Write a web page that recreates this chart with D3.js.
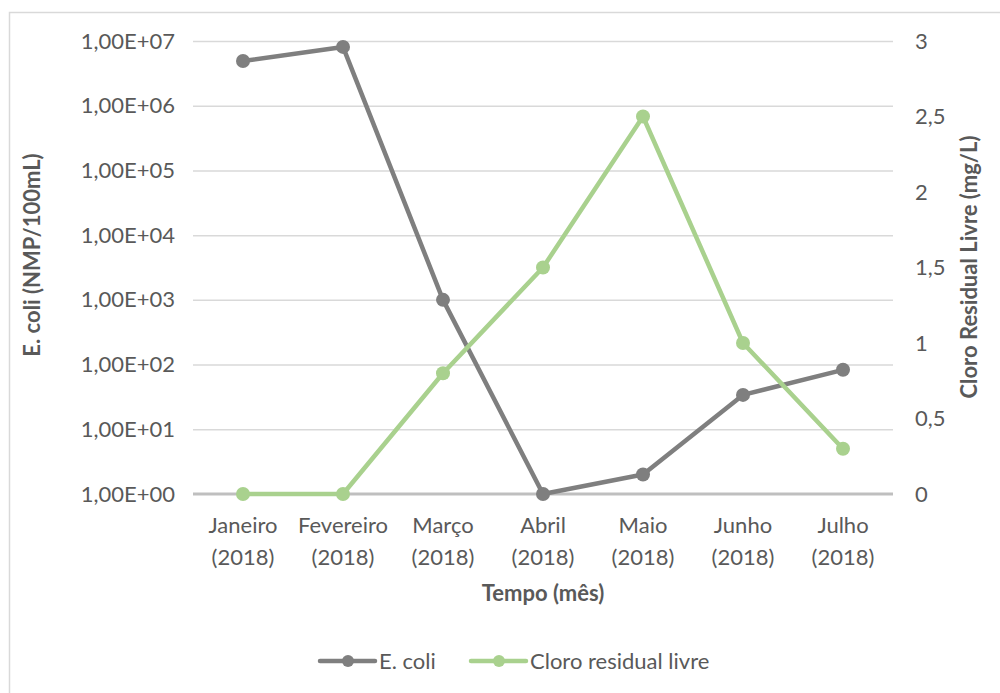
<!DOCTYPE html>
<html><head><meta charset="utf-8">
<script src="https://cdn.jsdelivr.net/npm/d3@7"></script>
<style>
body{margin:0;background:#fff;}
svg{display:block;font-family:Lato,"Open Sans",sans-serif;}
</style></head>
<body><svg id="chart" width="1000" height="693"></svg>
<script>
const months = ["Janeiro","Fevereiro","Março","Abril","Maio","Junho","Julho"];
const years = ["(2018)","(2018)","(2018)","(2018)","(2018)","(2018)","(2018)"];
const ecoli = [4.9e6, 8.1e6, 1000, 1, 2, 34, 83];
const cloro = [0, 0, 0.8, 1.5, 2.5, 1.0, 0.3];
const leftTicks = [1,10,100,1e3,1e4,1e5,1e6,1e7];
const rightTicks = [0,0.5,1,1.5,2,2.5,3];
const seriesNames = ["E. coli","Cloro residual livre"];
const colors = ["#7f7f7f","#a9d18e"];

const svg = d3.select("#chart");
const textColor = "#595959";
const FS = "22px";
const L = 193, R = 893, T = 41, B = 494;

svg.append("rect").attr("x",9.5).attr("y",12.5).attr("width",1200).attr("height",1000)
  .attr("fill","none").attr("stroke","#d9d9d9").attr("stroke-width",1.5);

const x = d3.scaleBand().domain(months).range([L,R]);
const yL = d3.scaleLog().domain([1,1e7]).range([B,T]);
const yR = d3.scaleLinear().domain([0,3]).range([B,T]);

// gridlines
const grid = svg.append("g").attr("transform",`translate(${L},0)`)
  .call(d3.axisLeft(yL).tickValues(leftTicks.slice(1)).tickSize(-(R-L)).tickFormat(""));
grid.select(".domain").remove();
grid.selectAll("line").attr("stroke","#d9d9d9").attr("stroke-width",1.5);

// baseline
svg.append("line").attr("x1",L).attr("x2",R).attr("y1",yL(1)).attr("y2",yL(1))
  .attr("stroke","#bfbfbf").attr("stroke-width",3);

// left axis
const fmt = d => "1,00E+" + String(Math.round(Math.log10(d))).padStart(2,"0");
const ax = svg.append("g").attr("transform",`translate(175,0)`)
  .call(d3.axisLeft(yL).tickValues(leftTicks).tickSize(0).tickPadding(0).tickFormat(fmt));
ax.select(".domain").remove();
ax.selectAll("text").attr("fill",textColor).style("font-size",FS).style("font-family","Lato");

// right axis
const ar = svg.append("g").attr("transform",`translate(915,0)`)
  .call(d3.axisRight(yR).tickValues(rightTicks).tickSize(0).tickPadding(0)
    .tickFormat(d => String(d).replace(".",",")));
ar.select(".domain").remove();
ar.selectAll("text").attr("fill",textColor).style("font-size",FS).style("font-family","Lato");

// x axis
const axb = svg.append("g").attr("transform",`translate(0,${B})`)
  .call(d3.axisBottom(x).tickSize(0).tickPadding(0).tickFormat(""));
axb.select(".domain").remove();
axb.selectAll(".tick").each(function(d,i){
  const t = d3.select(this).append("text").attr("fill",textColor)
    .attr("text-anchor","middle").style("font-size",FS).style("font-family","Lato");
  t.append("tspan").attr("x",0).attr("y",39).text(months[i]);
  t.append("tspan").attr("x",0).attr("y",71).text(years[i]);
});

// titles
svg.append("text").attr("x",(L+R)/2).attr("y",601).attr("text-anchor","middle")
  .attr("fill",textColor).style("font-size",FS).style("font-weight","bold").text("Tempo (mês)");
svg.append("text").attr("transform",`translate(40,255) rotate(-90)`).attr("text-anchor","middle")
  .attr("fill",textColor).style("font-size",FS).style("font-weight","bold").text("E. coli (NMP/100mL)");
svg.append("text").attr("transform",`translate(977,267) rotate(-90)`).attr("text-anchor","middle")
  .attr("fill",textColor).style("font-size",FS).style("font-weight","bold").text("Cloro Residual Livre (mg/L)");

const cx = i => x(months[i]) + x.bandwidth()/2;

function drawSeries(vals, ys, color){
  const line = d3.line().x((d,i)=>cx(i)).y(d=>ys(d));
  svg.append("path").datum(vals).attr("d",line).attr("fill","none")
    .attr("stroke",color).attr("stroke-width",4.5).attr("stroke-linejoin","round");
  svg.append("g").selectAll("circle").data(vals).join("circle")
    .attr("cx",(d,i)=>cx(i)).attr("cy",d=>ys(d)).attr("r",7).attr("fill",color);
}
drawSeries(ecoli, yL, colors[0]);
drawSeries(cloro, yR, colors[1]);

// legend
const legX = [320, 471];
seriesNames.forEach((n,i)=>{
  const g = svg.append("g").attr("transform",`translate(${legX[i]},661)`);
  g.append("line").attr("x1",0).attr("x2",55).attr("stroke",colors[i]).attr("stroke-width",4.5).attr("stroke-linecap","round");
  g.append("circle").attr("cx",28).attr("r",6).attr("fill",colors[i]);
  g.append("text").attr("x",59).attr("y",8).attr("fill",textColor).style("font-size",FS).text(n);
});
</script></body></html>
